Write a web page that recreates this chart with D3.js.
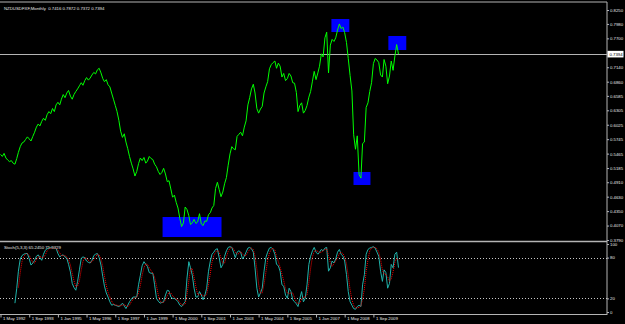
<!DOCTYPE html>
<html>
<head>
<meta charset="utf-8">
<script src="https://cdn.jsdelivr.net/npm/d3@7"></script>
<style>
  html, body { margin: 0; padding: 0; background: #000; }
  svg { display: block; }
  text { font-family: "Liberation Sans", Arial, sans-serif; font-size: 4.3px; fill: #e8e8e8; }
</style>
</head>
<body>
<div id="chart"></div>
<script>
// monthly closes, first bar May 1992
var START = "1992-05-01";
var closes = [
  0.545,0.541,0.547,0.538,0.534,0.531,0.533,0.528,
  0.526,0.537,0.549,0.560,0.567,0.569,0.574,0.579,0.575,0.571,0.580,0.588,
  0.598,0.604,0.600,0.609,0.615,0.611,0.622,0.628,0.624,0.634,0.628,0.641,
  0.646,0.641,0.652,0.661,0.655,0.664,0.669,0.658,0.652,0.661,0.667,0.672,
  0.678,0.684,0.679,0.688,0.694,0.689,0.693,0.699,0.704,0.701,0.709,0.712,
  0.703,0.692,0.686,0.690,0.680,0.676,0.664,0.652,0.640,0.628,0.611,0.590,
  0.578,0.585,0.569,0.556,0.541,0.528,0.517,0.503,0.512,0.527,0.538,0.533,
  0.539,0.528,0.532,0.541,0.537,0.535,0.526,0.521,0.512,0.506,0.510,0.518,
  0.507,0.492,0.494,0.478,0.462,0.466,0.452,0.441,0.421,0.405,0.412,0.443,
  0.438,0.426,0.409,0.412,0.419,0.411,0.414,0.430,0.410,0.407,0.416,0.415,
  0.428,0.432,0.441,0.446,0.479,0.491,0.477,0.463,0.472,0.488,0.500,0.524,
  0.546,0.560,0.556,0.554,0.580,0.584,0.588,0.581,0.598,0.610,0.641,0.655,
  0.672,0.681,0.664,0.634,0.625,0.633,0.638,0.664,0.676,0.686,0.711,0.719,
  0.723,0.726,0.712,0.722,0.716,0.695,0.702,0.688,0.692,0.702,0.697,0.684,
  0.683,0.665,0.628,0.640,0.645,0.625,0.630,0.640,0.656,0.667,0.687,0.706,
  0.690,0.703,0.716,0.740,0.734,0.771,0.782,0.703,0.757,0.768,0.764,0.771,
  0.786,0.798,0.789,0.792,0.781,0.762,0.731,0.698,0.668,0.583,0.555,0.581,
  0.506,0.499,0.566,0.569,0.636,0.645,0.667,0.684,0.721,0.731,0.728,0.723,
  0.699,0.695,0.729,0.716,0.682,0.697,0.726,0.708,0.736,0.758,0.7394
];

// Stoch(5,3,3) main line, from bar 8
var STOCH_FIRST = 8;
var stochMain = [
  13,35,60,78,83,85,86,86,78,69,72,76,
  82,84,80,76,85,91,93,94,95,94,94,94,
  86,81,83,84,81,79,70,59,42,36,32,45,
  62,79,81,80,75,73,72,76,83,85,86,80,
  69,52,38,28,22,15,10,11,10,9,8,10,
  13,9,5,10,15,19,22,22,22,40,54,68,
  74,70,67,58,57,57,40,20,16,13,14,15,
  25,32,31,22,20,20,18,15,10,8,12,15,
  50,74,65,54,35,22,22,30,25,18,25,35,
  60,75,85,88,92,93,80,65,70,82,90,95,
  96,95,88,80,88,90,88,78,82,88,94,95,
  93,88,65,35,22,28,35,60,80,88,94,95,
  92,85,70,68,60,40,38,25,20,35,30,18,
  15,12,8,20,30,15,20,40,70,82,90,95,
  88,85,88,92,90,94,95,60,65,75,72,78,
  88,92,85,82,75,55,30,15,10,5,4,8,
  10,8,40,55,85,92,94,95,96,94,88,82,
  60,45,62,58,35,42,70,65,85,88,65.245
];

// signal line (red dotted), from bar 10
var SIGNAL_FIRST = 10;
var stochSignal = [
  36,58,74,82,85,86,83,78,73,72,
  77,81,82,80,80,84,90,93,94,94,94,94,
  91,87,83,83,83,81,77,69,57,46,37,38,
  46,62,74,80,79,76,73,74,77,81,85,84,
  78,67,53,39,29,22,16,12,10,10,9,9,
  10,11,9,8,10,15,19,21,22,28,39,54,
  65,71,70,65,61,57,51,39,25,16,14,14,
  18,24,29,28,24,21,19,18,14,11,10,12,
  26,46,63,64,51,37,26,25,26,24,23,26,
  40,57,73,83,88,91,88,79,72,72,81,89,
  94,95,93,88,85,86,89,85,83,83,88,92,
  94,92,82,63,41,28,28,41,58,76,87,92,
  94,91,82,74,66,56,46,34,28,27,28,28,
  21,15,12,13,19,22,22,25,43,64,81,89,
  91,89,87,88,90,92,93,83,73,67,71,75,
  79,86,88,86,81,71,53,33,18,10,6,6,
  7,9,19,34,60,77,90,94,95,95,93,88,
  77,62,56,55,52,45,49,59,73,79,75.9329
];

var priceTicks = [0.8250,0.7980,0.7700,0.7140,0.6860,0.6585,0.6305,0.6025,
                  0.5745,0.5465,0.5185,0.4910,0.4630,0.4350,0.4070,0.3790];
var dateTicks = ["1992-05-01","1993-09-01","1995-01-01","1996-05-01","1997-09-01",
                 "1999-01-01","2000-05-01","2001-09-01","2003-01-01","2004-05-01",
                 "2005-09-01","2007-01-01","2008-05-01","2009-09-01"];
var stochTicks = [100, 80, 20, 0];
var stochLevels = [80, 20];

// highlighted zones (date range + price range)
var boxFrom = ["2007-09-19","2010-05-13","2008-09-28","1999-11-13"];
var boxTo   = ["2008-07-19","2011-03-13","2009-07-13","2002-08-10"];
var boxHi   = [0.8075, 0.7746, 0.5109, 0.4236];
var boxLo   = [0.7823, 0.7474, 0.4857, 0.3848];

var TITLE = "NZDUSDFXF,Monthly  0.7416 0.7872 0.7372 0.7394";
var STOCH_TITLE = "Stoch(5,3,3) 65.2450 75.9329";

var W = 625, H = 324;
var AXIS_X = 607;
var GREY = "#b4b4b4";

var parse = d3.timeParse("%Y-%m-%d");
var fmtTick = d3.timeFormat("1 %b %Y");
var start = parse(START);
function barDate(i) { return d3.timeMonth.offset(start, i); }

var svg = d3.select("#chart").append("svg")
  .attr("width", W).attr("height", H)
  .attr("viewBox", [0, 0, W, H].join(" "));

svg.append("rect").attr("width", W).attr("height", H).attr("fill", "#000");

var x = d3.scaleTime()
  .domain([parse("1992-05-01"), parse("2009-09-01")])
  .range([0.5, 373.4]);

var y = d3.scaleLinear().domain([0.3790, 0.8250]).range([240, 10]);
var ys = d3.scaleLinear().domain([0, 100]).range([312, 244]);

// frame lines
svg.append("line").attr("x1", 0).attr("x2", AXIS_X).attr("y1", 2).attr("y2", 2)
  .attr("stroke", GREY);
svg.append("line").attr("x1", 0).attr("x2", AXIS_X).attr("y1", 241.5).attr("y2", 241.5)
  .attr("stroke", GREY).attr("stroke-width", 1.5);
svg.append("line").attr("x1", AXIS_X).attr("x2", AXIS_X).attr("y1", 2).attr("y2", 315)
  .attr("stroke", GREY);

// blue zones
svg.append("g").selectAll("rect")
  .data(boxFrom)
  .join("rect")
  .attr("x", function(d) { return x(parse(d)); })
  .attr("width", function(d, i) { return x(parse(boxTo[i])) - x(parse(d)); })
  .attr("y", function(d, i) { return y(boxHi[i]); })
  .attr("height", function(d, i) { return y(boxLo[i]) - y(boxHi[i]); })
  .attr("fill", "#0000ff");

// current price line
var last = closes[closes.length - 1];
svg.append("line").attr("x1", 0).attr("x2", AXIS_X)
  .attr("y1", Math.round(y(last)) + 0.5).attr("y2", Math.round(y(last)) + 0.5)
  .attr("stroke", GREY);

// price line
var priceLine = d3.line()
  .x(function(d, i) { return x(barDate(i)); })
  .y(function(d) { return y(d); });

svg.append("path")
  .datum(closes)
  .attr("d", priceLine)
  .attr("fill", "none")
  .attr("stroke", "#00ff00")
  .attr("stroke-width", 1);

// price axis
var yAxis = svg.append("g")
  .attr("transform", "translate(" + AXIS_X + ",0)")
  .call(d3.axisRight(y).tickValues(priceTicks).tickSize(2).tickPadding(1)
        .tickFormat(d3.format(".4f")));
yAxis.select(".domain").remove();
yAxis.selectAll("line").attr("stroke", GREY);
yAxis.selectAll("text").attr("font-size", null).attr("font-family", null).attr("fill", "#e8e8e8");

// current price label
var tag = svg.append("g").attr("transform", "translate(" + AXIS_X + "," + y(last) + ")");
tag.append("rect").attr("x", 0.5).attr("y", -3.3).attr("width", 16).attr("height", 6.6)
  .attr("fill", "#fff");
tag.append("text").attr("x", 2.5).attr("dy", "0.35em").style("fill", "#000").text(d3.format(".4f")(last));

// titles
svg.append("text").attr("x", 4).attr("y", 9.5).style("white-space", "pre").text(TITLE);
svg.append("text").attr("x", 4).attr("y", 249).text(STOCH_TITLE);

// stochastic levels
svg.append("g").selectAll("line")
  .data(stochLevels)
  .join("line")
  .attr("x1", 0).attr("x2", AXIS_X)
  .attr("y1", function(d) { return Math.round(ys(d)) + 0.5; })
  .attr("y2", function(d) { return Math.round(ys(d)) + 0.5; })
  .attr("stroke", "#c8c8c8")
  .attr("stroke-dasharray", "1,2");

var mainLine = d3.line()
  .x(function(d, i) { return x(barDate(i + STOCH_FIRST)); })
  .y(function(d) { return ys(d); });
var sigLine = d3.line()
  .x(function(d, i) { return x(barDate(i + SIGNAL_FIRST)); })
  .y(function(d) { return ys(d); });

svg.append("path").datum(stochMain).attr("d", mainLine)
  .attr("fill", "none").attr("stroke", "#20b2aa").attr("stroke-width", 1);
svg.append("path").datum(stochSignal).attr("d", sigLine)
  .attr("fill", "none").attr("stroke", "#ff0000").attr("stroke-width", 1)
  .attr("stroke-dasharray", "1,1");

var sAxis = svg.append("g")
  .attr("transform", "translate(" + AXIS_X + ",0)")
  .call(d3.axisRight(ys).tickValues(stochTicks).tickSize(2).tickPadding(1));
sAxis.select(".domain").remove();
sAxis.selectAll("line").attr("stroke", GREY);
sAxis.selectAll("text").attr("font-size", null).attr("font-family", null).attr("fill", "#e8e8e8");

// time axis
var xAxis = svg.append("g")
  .attr("transform", "translate(0,314.5)")
  .call(d3.axisBottom(x).tickValues(dateTicks.map(parse)).tickSize(3).tickFormat(fmtTick));
xAxis.select(".domain").remove();
xAxis.selectAll("line").attr("stroke", GREY);
xAxis.selectAll("text").attr("font-size", null).attr("font-family", null)
  .attr("fill", "#e8e8e8").attr("text-anchor", "start").attr("x", 2).attr("y", 2).attr("dy", "0.71em");
svg.append("line").attr("x1", 0).attr("x2", AXIS_X).attr("y1", 314.5).attr("y2", 314.5)
  .attr("stroke", GREY);
</script>
</body>
</html>
